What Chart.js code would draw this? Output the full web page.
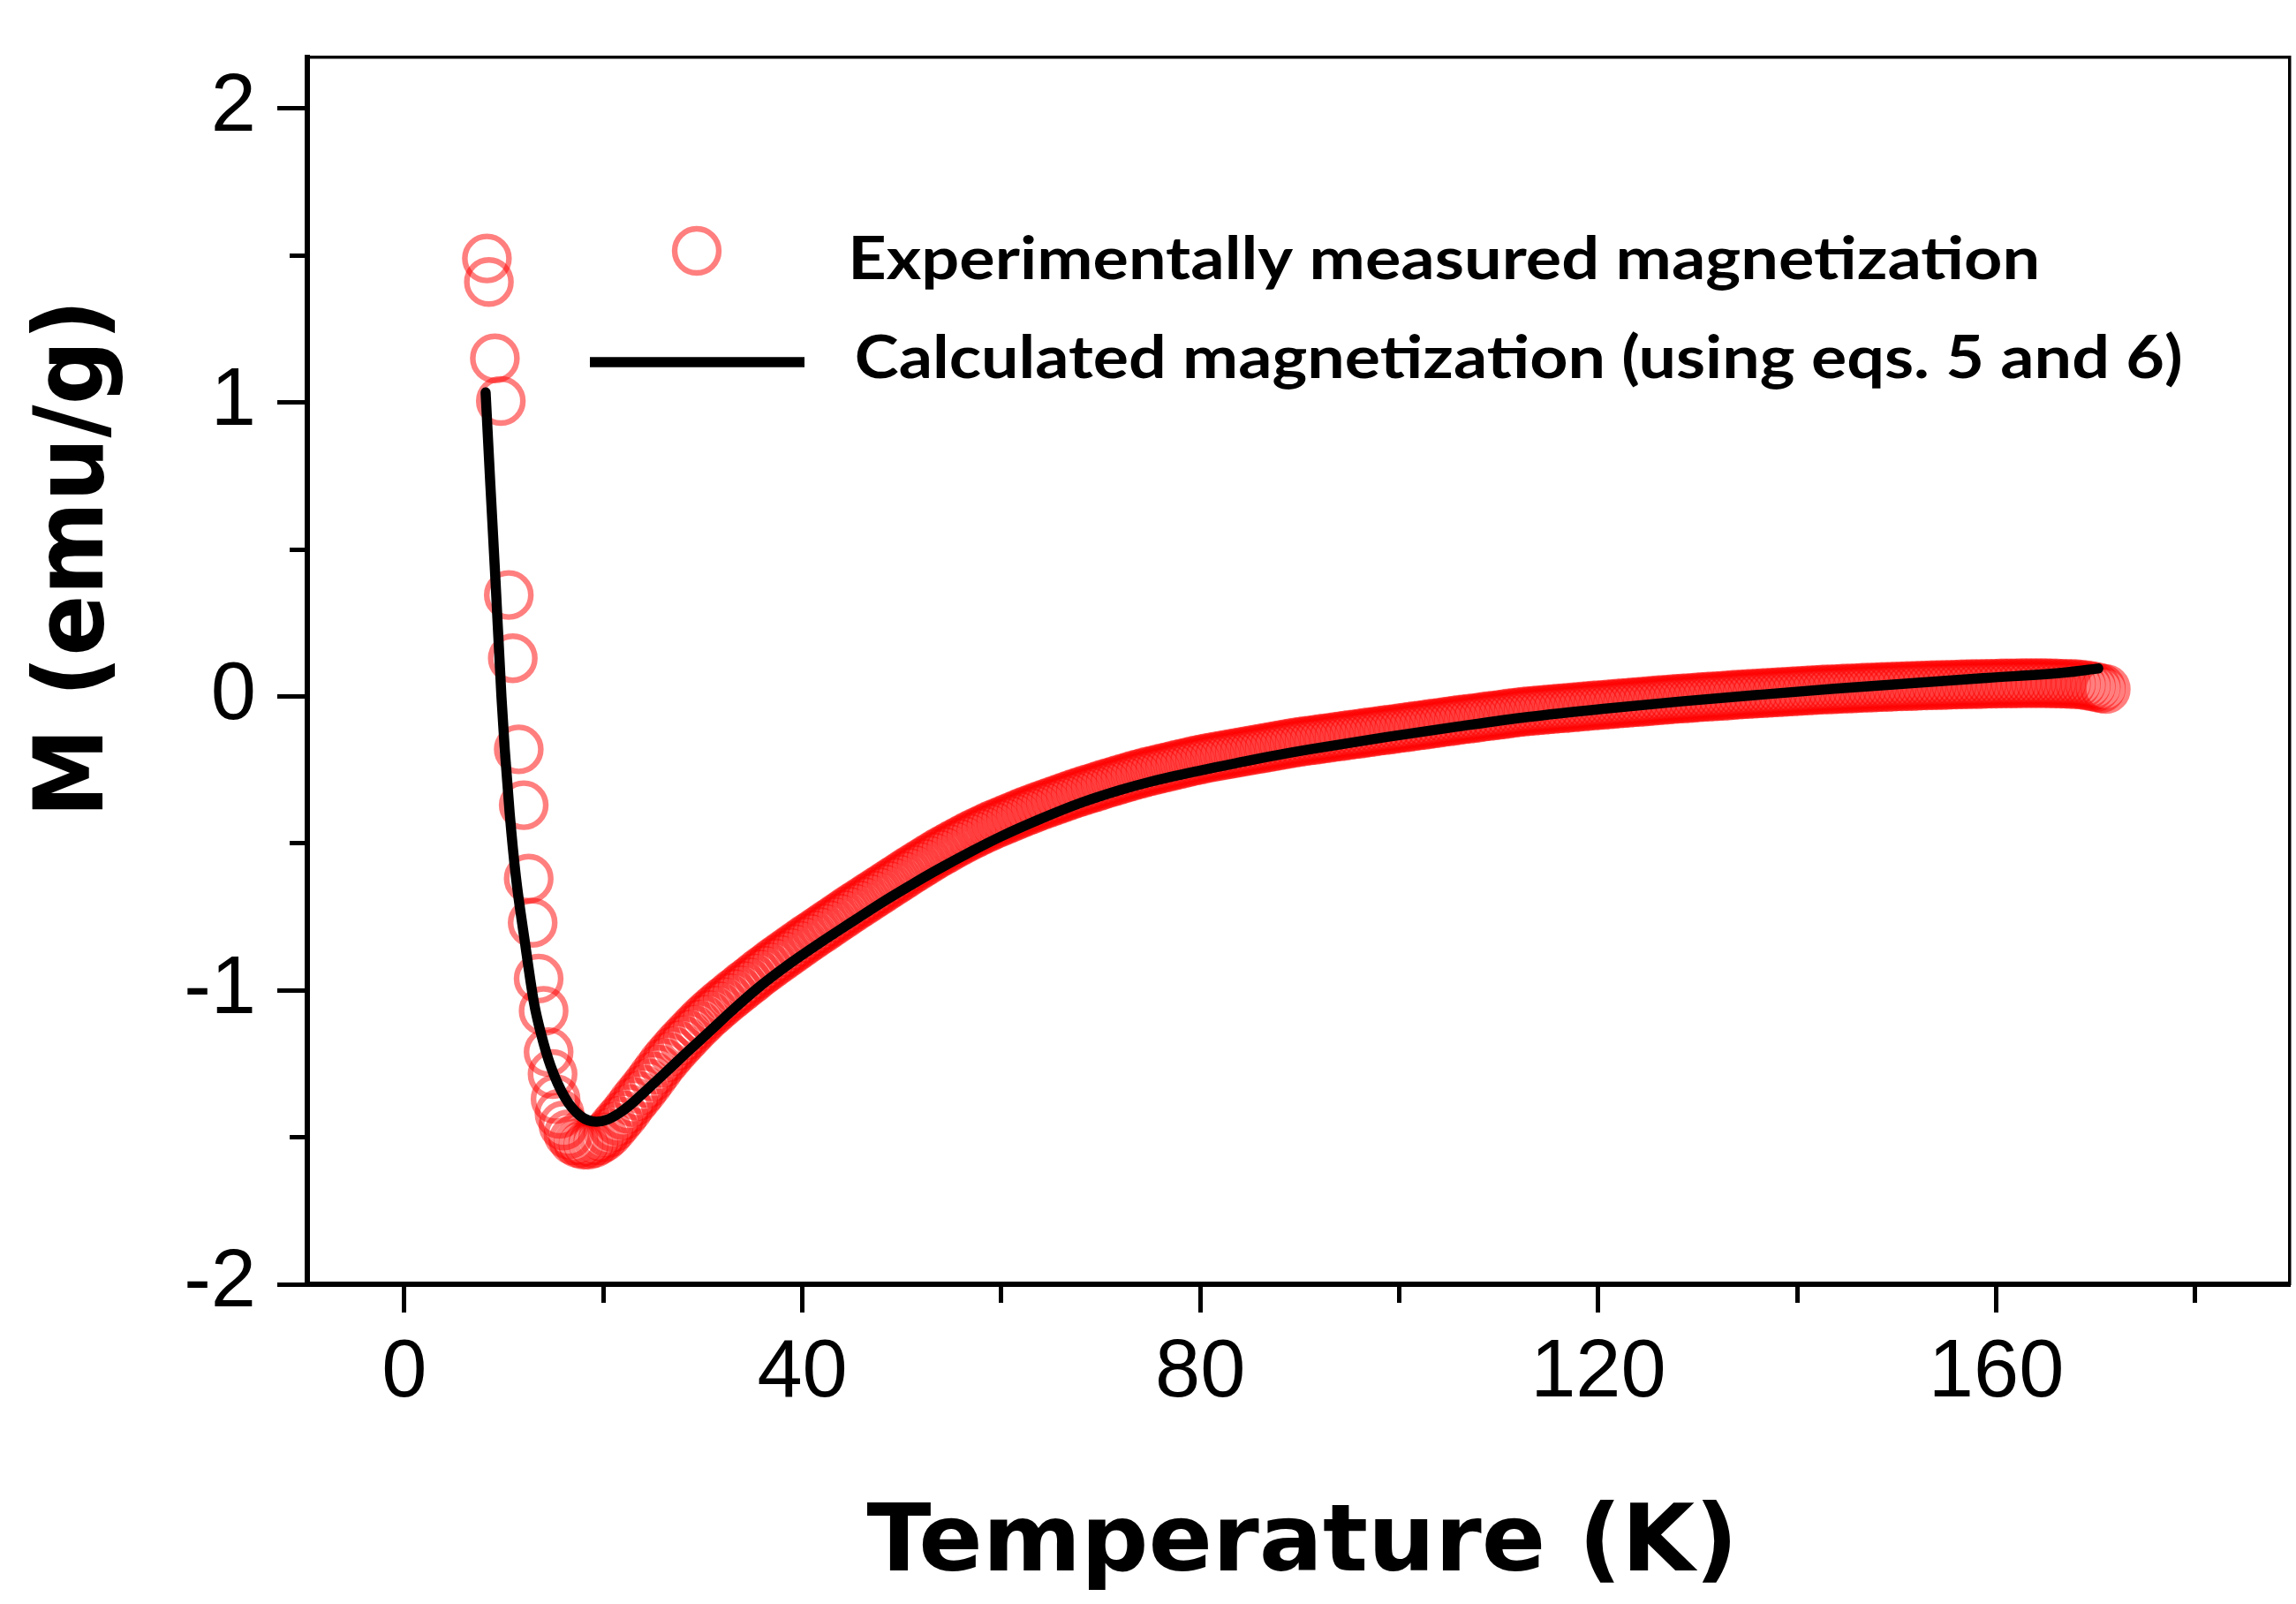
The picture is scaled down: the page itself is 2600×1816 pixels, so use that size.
<!DOCTYPE html>
<html>
<head>
<meta charset="utf-8">
<script src="https://cdn.jsdelivr.net/npm/chart.js@4.4.1/dist/chart.umd.min.js"></script>
<style>
html,body{margin:0;padding:0;background:#ffffff;}
canvas{display:block;}
</style>
</head>
<body>
<canvas id="chart" width="2600" height="1816" style="width:2600px;height:1816px"></canvas>
<script>
// ---------- data ----------
// sparse low-temperature measured points
const lowTemp = [8.3, 8.5, 9.1, 9.7, 10.5, 10.9, 11.5, 12.0, 12.5, 12.9, 13.5, 14.0, 14.5, 14.9, 15.2, 15.6, 16.0, 16.5, 17.0];
const lowMag  = [1.49, 1.41, 1.15, 1.005, 0.345, 0.13, -0.18, -0.37, -0.62, -0.77, -0.96, -1.07, -1.21, -1.285, -1.37, -1.42, -1.46, -1.49, -1.51];

// dense measured points (band)
const bandTemp = [
 17.5,18,18.5,19,19.5,20,20.5,21,21.5,22,
 22.5,23,23.5,24,24.5,25,25.5,26,26.5,27,
 27.5,28,28.5,29,29.5,30,30.5,31,31.5,32,
 32.5,33,33.5,34,34.5,35,35.5,36,36.5,37,
 37.5,38,38.5,39,39.5,40,40.5,41,41.5,42,
 42.5,43,43.5,44,44.5,45,45.5,46,46.5,47,
 47.5,48,48.5,49,49.5,50,50.5,51,51.5,52,
 52.5,53,53.5,54,54.5,55,55.5,56,56.5,57,
 57.5,58,58.5,59,59.5,60,60.5,61,61.5,62,
 62.5,63,63.5,64,64.5,65,65.5,66,66.5,67,
 67.5,68,68.5,69,69.5,70,70.5,71,71.5,72,
 72.5,73,73.5,74,74.5,75,75.5,76,76.5,77,
 77.5,78,78.5,79,79.5,80,80.5,81,81.5,82,
 82.5,83,83.5,84,84.5,85,85.5,86,86.5,87,
 87.5,88,88.5,89,89.5,90,90.5,91,91.5,92,
 92.5,93,93.5,94,94.5,95,95.5,96,96.5,97,
 97.5,98,98.5,99,99.5,100,100.5,101,101.5,102,
 102.5,103,103.5,104,104.5,105,105.5,106,106.5,107,
 107.5,108,108.5,109,109.5,110,110.5,111,111.5,112,
 112.5,113,113.5,114,114.5,115,115.5,116,116.5,117,
 117.5,118,118.5,119,119.5,120,120.5,121,121.5,122,
 122.5,123,123.5,124,124.5,125,125.5,126,126.5,127,
 127.5,128,128.5,129,129.5,130,130.5,131,131.5,132,
 132.5,133,133.5,134,134.5,135,135.5,136,136.5,137,
 137.5,138,138.5,139,139.5,140,140.5,141,141.5,142,
 142.5,143,143.5,144,144.5,145,145.5,146,146.5,147,
 147.5,148,148.5,149,149.5,150,150.5,151,151.5,152,
 152.5,153,153.5,154,154.5,155,155.5,156,156.5,157,
 157.5,158,158.5,159,159.5,160,160.5,161,161.5,162,
 162.5,163,163.5,164,164.5,165,165.5,166,166.5,167,
 167.5,168,168.5,169,169.5,170,170.5,171
];
const bandMag = [
 -1.52,-1.525,-1.525,-1.52,-1.51,-1.5,-1.485,-1.465,-1.445,-1.425,
 -1.403,-1.38,-1.359,-1.338,-1.316,-1.293,-1.27,-1.247,-1.227,-1.207,
 -1.188,-1.17,-1.152,-1.134,-1.117,-1.1,-1.084,-1.069,-1.054,-1.04,
 -1.026,-1.012,-0.999,-0.985,-0.972,-0.959,-0.945,-0.932,-0.92,-0.907,
 -0.895,-0.883,-0.871,-0.859,-0.847,-0.835,-0.823,-0.812,-0.8,-0.789,
 -0.777,-0.766,-0.754,-0.743,-0.731,-0.72,-0.709,-0.698,-0.687,-0.676,
 -0.665,-0.654,-0.643,-0.632,-0.621,-0.61,-0.599,-0.588,-0.578,-0.567,
 -0.557,-0.546,-0.536,-0.526,-0.517,-0.507,-0.498,-0.489,-0.48,-0.471,
 -0.463,-0.455,-0.447,-0.439,-0.432,-0.425,-0.418,-0.411,-0.404,-0.397,
 -0.39,-0.384,-0.377,-0.371,-0.365,-0.359,-0.353,-0.347,-0.341,-0.335,
 -0.329,-0.324,-0.318,-0.313,-0.308,-0.302,-0.297,-0.292,-0.287,-0.282,
 -0.277,-0.272,-0.267,-0.263,-0.258,-0.254,-0.25,-0.246,-0.242,-0.238,
 -0.234,-0.23,-0.226,-0.222,-0.218,-0.215,-0.211,-0.208,-0.205,-0.202,
 -0.199,-0.196,-0.193,-0.19,-0.187,-0.184,-0.181,-0.178,-0.175,-0.172,
 -0.169,-0.166,-0.163,-0.16,-0.157,-0.155,-0.152,-0.15,-0.148,-0.145,
 -0.143,-0.141,-0.138,-0.136,-0.134,-0.131,-0.129,-0.127,-0.124,-0.122,
 -0.12,-0.117,-0.115,-0.113,-0.111,-0.108,-0.106,-0.104,-0.101,-0.099,
 -0.097,-0.094,-0.092,-0.09,-0.087,-0.085,-0.083,-0.08,-0.078,-0.076,
 -0.074,-0.072,-0.069,-0.067,-0.065,-0.063,-0.061,-0.058,-0.056,-0.054,
 -0.052,-0.05,-0.049,-0.047,-0.046,-0.044,-0.043,-0.041,-0.04,-0.039,
 -0.037,-0.036,-0.034,-0.033,-0.031,-0.03,-0.029,-0.027,-0.026,-0.024,
 -0.023,-0.022,-0.02,-0.019,-0.018,-0.016,-0.015,-0.013,-0.012,-0.011,
 -0.009,-0.008,-0.007,-0.006,-0.005,-0.003,-0.002,-0.001,0,0.001,
 0.002,0.003,0.005,0.006,0.007,0.008,0.009,0.01,0.011,0.012,
 0.013,0.014,0.015,0.016,0.017,0.018,0.019,0.02,0.021,0.022,
 0.023,0.024,0.024,0.025,0.026,0.027,0.027,0.028,0.029,0.03,
 0.03,0.031,0.032,0.032,0.033,0.034,0.034,0.035,0.035,0.036,
 0.037,0.037,0.038,0.038,0.039,0.039,0.04,0.04,0.041,0.041,
 0.042,0.042,0.042,0.043,0.043,0.043,0.044,0.044,0.044,0.044,
 0.045,0.045,0.045,0.045,0.045,0.045,0.044,0.044,0.043,0.043,
 0.042,0.042,0.04,0.038,0.035,0.032,0.028,0.025
];

// calculated curve
const calcTemp = [8.17, 8.65, 9.16, 9.76, 10.1, 10.59, 11.21, 12.08, 13.03, 13.75, 14.7, 16.13, 17.71, 19.3, 20.4, 21.5, 22.7, 24.0, 25.95, 28.3, 30.7, 33.0, 35.46, 38.5, 41.8, 45.0, 48.1, 51.0, 53.5, 57.0, 60.0, 64.0, 68.0, 72.0, 75.0, 80.0, 83.35, 87.0, 91.0, 98.75, 106.0, 112.9, 120.5, 128.3, 136.0, 143.7, 151.5, 159.1, 166.8, 170.25];
const calcMag  = [1.034, 0.718, 0.396, 0.0, -0.183, -0.398, -0.613, -0.827, -1.042, -1.149, -1.257, -1.364, -1.428, -1.447, -1.44, -1.42, -1.39, -1.35, -1.289, -1.214, -1.139, -1.067, -0.994, -0.915, -0.838, -0.767, -0.699, -0.64, -0.591, -0.527, -0.476, -0.416, -0.362, -0.318, -0.29, -0.252, -0.229, -0.204, -0.18, -0.138, -0.102, -0.07, -0.042, -0.017, 0.005, 0.026, 0.045, 0.063, 0.081, 0.095];

// axes
const xRange = [-9.75, 189.5];
const yRange = [-2, 2.174];
const xMajorTicks = [0, 40, 80, 120, 160];
const xMinorTicks = [0, 20, 40, 60, 80, 100, 120, 140, 160, 180];
const yMajorTicks = [-2, -1, 0, 1, 2];
const yMinorTicks = [-2, -1.5, -1, -0.5, 0, 0.5, 1, 1.5, 2];

// texts
const expLabel = 'Experimentally measured magnetization';
const calcLabel = 'Calculated magnetization (using eqs. 5 and 6)';
const xTitle = 'Temperature (K)';
const yTitle = 'M (emu/g)';

// ---------- build ----------
const expPoints = lowTemp.map((t, i) => ({x: t, y: lowMag[i]}))
  .concat(bandTemp.map((t, i) => ({x: t, y: bandMag[i]})));
const calcPoints = calcTemp.map((t, i) => ({x: t, y: calcMag[i]}));

const RED_RING = 'rgba(255,0,0,0.5)';

function setTicks(values) {
  return function (scale) { scale.ticks = values.map(v => ({value: v})); };
}

function fitText(ctx, text, x, y, inkWidth, align) {
  const m = ctx.measureText(text);
  const ink = m.actualBoundingBoxLeft + m.actualBoundingBoxRight;
  const sx = inkWidth / ink;
  ctx.save();
  ctx.translate(x, y);
  ctx.scale(sx, 1);
  ctx.textAlign = 'left';
  let ox = m.actualBoundingBoxLeft;
  if (align === 'center') ox -= ink / 2;
  ctx.fillText(text, ox, 0);
  ctx.restore();
}

const decor = {
  id: 'decor',
  afterDraw(chart) {
    const ctx = chart.ctx;
    const ca = chart.chartArea;
    const dsExp = chart.data.datasets[0];
    const dsCalc = chart.data.datasets[1];
    ctx.save();
    ctx.fillStyle = '#000';
    ctx.textBaseline = 'alphabetic';

    // x-axis title
    ctx.font = 'bold 106px "DejaVu Sans"';
    fitText(ctx, xTitle, (ca.left + ca.right) / 2, 1778, 978, 'center');

    // y-axis title
    ctx.save();
    ctx.translate(116, 632);
    ctx.rotate(-Math.PI / 2);
    ctx.font = 'bold 108px "DejaVu Sans"';
    fitText(ctx, yTitle, 0, 0, 570, 'center');
    ctx.restore();

    // legend
    ctx.beginPath();
    ctx.strokeStyle = dsExp.borderColor;
    ctx.lineWidth = dsExp.borderWidth;
    ctx.arc(789, 284, dsExp.pointRadius, 0, Math.PI * 2);
    ctx.stroke();

    ctx.beginPath();
    ctx.strokeStyle = dsCalc.borderColor;
    ctx.lineWidth = dsCalc.borderWidth;
    ctx.lineCap = 'butt';
    ctx.moveTo(668, 410);
    ctx.lineTo(911, 410);
    ctx.stroke();

    ctx.font = 'bold 67px Lato';
    fitText(ctx, dsExp.label, 966, 315.5, 1341, 'left');
    fitText(ctx, dsCalc.label, 970, 427.5, 1499, 'left');
    ctx.restore();
  }
};

const tickFont = {family: '"Liberation Sans", Arial, sans-serif', size: 92, weight: 'normal'};

new Chart(document.getElementById('chart'), {
  type: 'scatter',
  data: {
    datasets: [
      {
        label: expLabel,
        data: expPoints,
        showLine: false,
        pointStyle: 'circle',
        pointRadius: 25,
        pointHoverRadius: 25,
        borderWidth: 6.4,
        borderColor: RED_RING,
        backgroundColor: 'rgba(0,0,0,0)',
        xAxisID: 'x', yAxisID: 'y',
        order: 1
      },
      {
        label: calcLabel,
        data: calcPoints,
        showLine: true,
        pointRadius: 0,
        borderWidth: 11.5,
        borderColor: '#000000',
        backgroundColor: '#000000',
        cubicInterpolationMode: 'monotone',
        borderCapStyle: 'round',
        borderJoinStyle: 'round',
        xAxisID: 'x', yAxisID: 'y',
        order: 0
      }
    ]
  },
  options: {
    responsive: false,
    maintainAspectRatio: false,
    devicePixelRatio: 1,
    animation: false,
    events: [],
    layout: {padding: {top: 65, right: 7, left: 0, bottom: 0}, autoPadding: false},
    plugins: {legend: {display: false}, tooltip: {enabled: false}, title: {display: false}},
    scales: {
      x: {
        type: 'linear', position: 'bottom', min: xRange[0], max: xRange[1],
        afterBuildTicks: setTicks(xMajorTicks),
        afterFit(s) { s.height = 362; s.paddingLeft = 0; s.paddingRight = 0; },
        ticks: {padding: 14, color: '#000', font: tickFont, maxRotation: 0, autoSkip: false},
        grid: {display: true, drawOnChartArea: false, drawTicks: true, tickLength: 32, tickWidth: 5, tickColor: '#000'},
        border: {display: true, color: '#000', width: 6}
      },
      xMinor: {
        type: 'linear', axis: 'x', position: {y: yRange[0]}, min: xRange[0], max: xRange[1],
        afterBuildTicks: setTicks(xMinorTicks),
        ticks: {display: false, autoSkip: false},
        grid: {display: true, drawOnChartArea: false, drawTicks: true, tickLength: 21, tickWidth: 5, tickColor: '#000'},
        border: {display: false}
      },
      xTop: {
        type: 'linear', axis: 'x', position: 'top', min: xRange[0], max: xRange[1],
        ticks: {display: false},
        grid: {display: true, drawOnChartArea: false, drawTicks: false},
        border: {display: true, color: '#000', width: 3.5}
      },
      y: {
        type: 'linear', position: 'left', min: yRange[0], max: yRange[1],
        afterBuildTicks: setTicks(yMajorTicks),
        afterFit(s) { s.width = 348; s.paddingTop = 0; s.paddingBottom = 0; },
        ticks: {padding: 24, color: '#000', font: tickFont, autoSkip: false},
        grid: {display: true, drawOnChartArea: false, drawTicks: true, tickLength: 34, tickWidth: 5, tickColor: '#000'},
        border: {display: true, color: '#000', width: 6}
      },
      yMinor: {
        type: 'linear', axis: 'y', position: {x: xRange[0]}, min: yRange[0], max: yRange[1],
        afterBuildTicks: setTicks(yMinorTicks),
        ticks: {display: false, autoSkip: false},
        grid: {display: true, drawOnChartArea: false, drawTicks: true, tickLength: 20, tickWidth: 5, tickColor: '#000'},
        border: {display: false}
      },
      yRight: {
        type: 'linear', axis: 'y', position: 'right', min: yRange[0], max: yRange[1],
        ticks: {display: false},
        grid: {display: true, drawOnChartArea: false, drawTicks: false},
        border: {display: true, color: '#000', width: 3.5}
      }
    }
  },
  plugins: [decor]
});
</script>
</body>
</html>
